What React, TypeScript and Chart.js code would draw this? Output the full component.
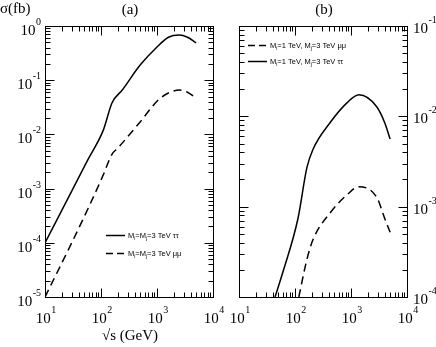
import React, { useEffect, useRef } from "react";
import { Chart, registerables } from "chart.js";

Chart.register(...registerables);

// ---------- data ----------
// Panel (a): M_i = M_j = 3 TeV
const tauEnergyA = [10, 30, 60, 110, 157, 240, 500, 1000, 1600, 2500, 3500, 5000];
const tauSigmaA = [1e-4, 9e-4, 3.6e-3, 0.012, 0.038, 0.066, 0.19, 0.41, 0.62, 0.68, 0.62, 0.49];
const muEnergyA = [10, 30, 60, 110, 157, 200, 500, 1050, 1600, 2500, 3500, 5000];
const muSigmaA = [1e-5, 1e-4, 4.5e-4, 1.8e-3, 4.3e-3, 5.6e-3, 0.017, 0.043, 0.058, 0.066, 0.06, 0.047];

// Panel (b): M_i = 1 TeV, M_j = 3 TeV
const tauEnergyB = [44, 61, 113, 163, 209, 422, 847, 1380, 2900, 4000, 5000];
const tauSigmaB = [1e-4, 1.9e-4, 7.4e-4, 0.0027, 0.0043, 0.0085, 0.0141, 0.0173, 0.0127, 0.0085, 0.0056];
const muEnergyB = [117, 163, 209, 422, 847, 1380, 2900, 4000, 5000];
const muSigmaB = [1e-4, 2.6e-4, 4.3e-4, 8.5e-4, 1.35e-3, 1.66e-3, 1.26e-3, 7.4e-4, 5.2e-4];

// tick labels (powers of ten)
const xTickExps = [1, 2, 3, 4];
const yTickExpsA = [0, -1, -2, -3, -4, -5];
const yTickExpsB = [-1, -2, -3, -4];

const xTitle = "\u221As (GeV)";
const yTitle = "\u03C3(fb)";
const panelTitleA = "(a)";
const panelTitleB = "(b)";

type Part = { t: string; sub?: boolean };
const legendA: { dashed: boolean; parts: Part[] }[] = [
  { dashed: false, parts: [{ t: "M" }, { t: "i", sub: true }, { t: "=M" }, { t: "j", sub: true }, { t: "=3 TeV \u03C4\u03C4" }] },
  { dashed: true, parts: [{ t: "M" }, { t: "i", sub: true }, { t: "=M" }, { t: "j", sub: true }, { t: "=3 TeV \u03BC\u03BC" }] },
];
const legendB: { dashed: boolean; parts: Part[] }[] = [
  { dashed: true, parts: [{ t: "M" }, { t: "i", sub: true }, { t: "=1 TeV, M" }, { t: "j", sub: true }, { t: "=3 TeV \u03BC\u03BC" }] },
  { dashed: false, parts: [{ t: "M" }, { t: "i", sub: true }, { t: "=1 TeV, M" }, { t: "j", sub: true }, { t: "=3 TeV \u03C4\u03C4" }] },
];

// ---------- drawing helpers ----------
const SERIF = "'Liberation Serif', 'DejaVu Serif', serif";
const SANS = "'Liberation Sans', Arial, sans-serif";
const DASH = [8, 5];
const W = 436;
const H = 347;

function drawPower(ctx: CanvasRenderingContext2D, exp: number, x: number, y: number, align: "center" | "left" | "right") {
  const base = "10";
  const e = String(exp);
  ctx.font = `15px ${SERIF}`;
  const wb = ctx.measureText(base).width;
  ctx.font = `10px ${SERIF}`;
  const we = ctx.measureText(e).width;
  const w = wb + we + 0.5;
  let sx = x;
  if (align === "center") sx = x - w / 2;
  else if (align === "right") sx = x - w;
  ctx.textAlign = "left";
  ctx.textBaseline = "alphabetic";
  ctx.font = `15px ${SERIF}`;
  ctx.fillText(base, sx, y);
  ctx.font = `10px ${SERIF}`;
  ctx.fillText(e, sx + wb + 0.5, y - 10);
}

function drawRich(ctx: CanvasRenderingContext2D, parts: Part[], x: number, y: number) {
  let cx = x;
  ctx.textAlign = "left";
  ctx.textBaseline = "alphabetic";
  for (const p of parts) {
    ctx.font = p.sub ? `5px ${SANS}` : `7.5px ${SANS}`;
    ctx.fillText(p.t, cx, p.sub ? y + 2 : y);
    cx += ctx.measureText(p.t).width;
  }
}

type PanelOpts = {
  yExps: number[];
  leftLabels: boolean;
  rightLabels: boolean;
  title: string;
  titleX: number;
  showYTitle: boolean;
  showXTitle: boolean;
  legend: { dashed: boolean; parts: Part[] }[];
  legendX: number;
  legendY: number;
  legendGap: number;
};

function makePlugin(o: PanelOpts) {
  return {
    id: "frame",
    afterDraw(chart: any) {
      const ctx: CanvasRenderingContext2D = chart.ctx;
      const xs = chart.scales.x;
      const ys = chart.scales.y;
      const { left, right, top, bottom } = chart.chartArea;
      ctx.save();
      ctx.strokeStyle = "#000";
      ctx.fillStyle = "#000";
      ctx.lineWidth = 1;
      ctx.setLineDash([]);
      const L = Math.round(left) + 0.5;
      const R = Math.round(right) + 0.5;
      const T = Math.round(top) + 0.5;
      const B = Math.round(bottom) + 0.5;
      ctx.strokeRect(L, T, R - L, B - T);

      ctx.beginPath();
      for (let k = xTickExps[0]; k <= xTickExps[xTickExps.length - 1]; k++) {
        for (let m = 1; m <= 9; m++) {
          const v = m * Math.pow(10, k);
          if (v > xs.max * 1.0001) break;
          const px = Math.round(xs.getPixelForValue(v)) + 0.5;
          const len = m === 1 ? 9 : 5;
          ctx.moveTo(px, B);
          ctx.lineTo(px, B - len);
          ctx.moveTo(px, T);
          ctx.lineTo(px, T + len);
        }
      }
      const yMinExp = Math.min(...o.yExps);
      const yMaxExp = Math.max(...o.yExps);
      for (let k = yMinExp; k <= yMaxExp; k++) {
        for (let m = 1; m <= 9; m++) {
          const v = m * Math.pow(10, k);
          if (v > ys.max * 1.0001) break;
          const py = Math.round(ys.getPixelForValue(v)) + 0.5;
          const len = m === 1 ? 9 : 5;
          ctx.moveTo(L, py);
          ctx.lineTo(L + len, py);
          ctx.moveTo(R, py);
          ctx.lineTo(R - len, py);
        }
      }
      ctx.stroke();

      for (const e of xTickExps) {
        const px = xs.getPixelForValue(Math.pow(10, e));
        drawPower(ctx, e, px + 1, 323, "center");
      }
      for (const e of o.yExps) {
        const py = ys.getPixelForValue(Math.pow(10, e));
        if (o.leftLabels) drawPower(ctx, e, left - 4, py + 9, "right");
        if (o.rightLabels) drawPower(ctx, e, right + 6, py + 7, "left");
      }

      ctx.font = `15px ${SERIF}`;
      ctx.textAlign = "center";
      ctx.textBaseline = "alphabetic";
      ctx.fillText(o.title, o.titleX, 14);
      if (o.showXTitle) ctx.fillText(xTitle, 130, 340);
      if (o.showYTitle) {
        ctx.textAlign = "left";
        ctx.fillText(yTitle, 0, 13);
      }

      o.legend.forEach((item, i) => {
        const y = o.legendY + i * o.legendGap;
        ctx.beginPath();
        ctx.lineWidth = 1.5;
        ctx.setLineDash(item.dashed ? [7, 4] : []);
        ctx.moveTo(o.legendX, y + 0.5);
        ctx.lineTo(o.legendX + 19, y + 0.5);
        ctx.stroke();
        ctx.setLineDash([]);
        drawRich(ctx, item.parts, o.legendX + 22, y + 3);
      });
      ctx.restore();
    },
  };
}

function makeDataset(xv: number[], yv: number[], dashed: boolean) {
  return {
    data: xv.map((x, i) => ({ x, y: yv[i] })),
    borderColor: "#000",
    borderWidth: 1.5,
    borderDash: dashed ? DASH : [],
    pointRadius: 0,
    fill: false,
    cubicInterpolationMode: "monotone" as const,
  };
}

function Panel(props: {
  pad: { left: number; right: number; top: number; bottom: number };
  yMin: number;
  yMax: number;
  datasets: any[];
  opts: PanelOpts;
}) {
  const ref = useRef<HTMLCanvasElement | null>(null);
  useEffect(() => {
    if (!ref.current) return;
    const chart = new Chart(ref.current, {
      type: "line",
      data: { datasets: props.datasets },
      options: {
        responsive: false,
        animation: false,
        devicePixelRatio: 1,
        layout: { padding: props.pad },
        plugins: { legend: { display: false }, tooltip: { enabled: false } },
        scales: {
          x: { type: "logarithmic", min: 10, max: 10000, display: false },
          y: { type: "logarithmic", min: props.yMin, max: props.yMax, display: false },
        },
      },
      plugins: [makePlugin(props.opts)],
    });
    return () => chart.destroy();
  }, []);
  return (
    <canvas ref={ref} width={W} height={H} style={{ position: "absolute", left: 0, top: 0, width: W, height: H }} />
  );
}

export default function App() {
  return (
    <div style={{ position: "absolute", left: 0, top: 0, width: W, height: H, background: "#fff" }}>
      <Panel
        pad={{ left: 45, right: W - 213, top: 26, bottom: 50 }}
        yMin={1e-5}
        yMax={1}
        datasets={[makeDataset(tauEnergyA, tauSigmaA, false), makeDataset(muEnergyA, muSigmaA, true)]}
        opts={{
          yExps: yTickExpsA,
          leftLabels: true,
          rightLabels: false,
          title: panelTitleA,
          titleX: 130,
          showYTitle: true,
          showXTitle: true,
          legend: legendA,
          legendX: 106,
          legendY: 235,
          legendGap: 18,
        }}
      />
      <Panel
        pad={{ left: 239, right: W - 407, top: 26, bottom: 50 }}
        yMin={1e-4}
        yMax={1e-1}
        datasets={[makeDataset(tauEnergyB, tauSigmaB, false), makeDataset(muEnergyB, muSigmaB, true)]}
        opts={{
          yExps: yTickExpsB,
          leftLabels: false,
          rightLabels: true,
          title: panelTitleB,
          titleX: 324,
          showYTitle: false,
          showXTitle: false,
          legend: legendB,
          legendX: 248,
          legendY: 45,
          legendGap: 16,
        }}
      />
    </div>
  );
}
